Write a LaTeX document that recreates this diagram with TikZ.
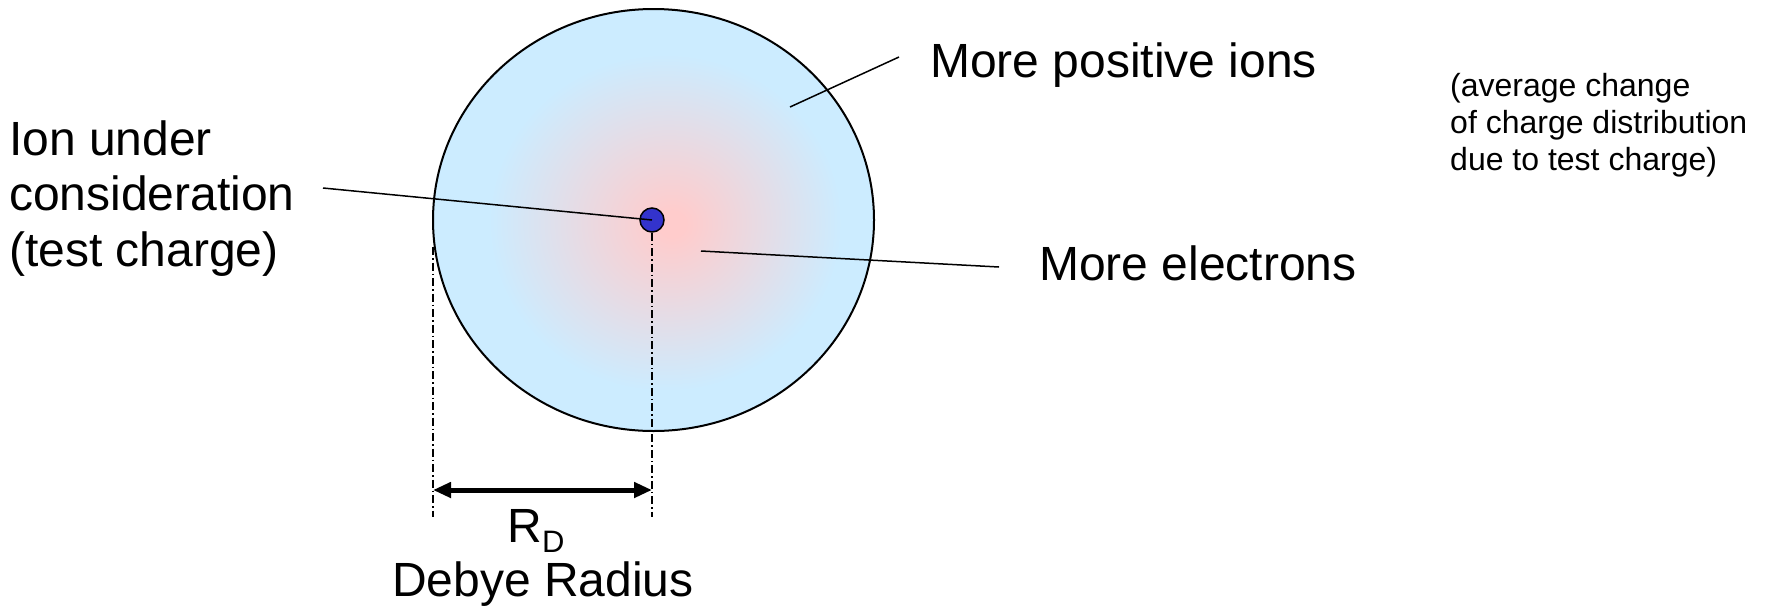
\documentclass[tikz,border=0pt]{standalone}
\usepackage{fontspec}
\setmainfont{Liberation Sans}
\usetikzlibrary{arrows.meta, positioning, shapes.geometric}
\definecolor{dotblue}{RGB}{51,51,204}
\pgfdeclareradialshading{debye}{\pgfpoint{2.2bp}{-0.5bp}}{rgb(0bp)=(1,0.8,0.8); rgb(1.5bp)=(1,0.8,0.8); rgb(20bp)=(0.8,0.925,1); rgb(50bp)=(0.8,0.925,1)}

\begin{document}
\begin{tikzpicture}[x=1pt, y=-1pt,
  bigtext/.style={font=\fontsize{48}{55.2}\selectfont, inner sep=0pt, align=left},
  smalltext/.style={font=\fontsize{32}{36.8}\selectfont, inner sep=0pt, align=left},
  leader/.style={line width=1.5pt},
  dashdot/.style={line width=1.5pt, dash pattern=on 8pt off 3pt on 1.5pt off 3pt}]
  \useasboundingbox (0,0) rectangle (1768,606);
  % Debye sphere and test charge
  \node[ellipse, draw, line width=2pt, shade, shading=debye, minimum width=441pt, minimum height=422pt, inner sep=0pt] (sphere) at (653.5,220) {};
  \node[circle, draw, fill=dotblue, line width=1.5pt, minimum size=24pt, inner sep=0pt] (charge) at (652,220) {};
  % Labels (multi-line ones sit on their last baseline)
  \node[bigtext, anchor=base west] (ionlabel) at (9,266) {Ion under\\consideration\\(test charge)};
  \node[bigtext, anchor=base west] (poslabel) at (930,77) {More positive ions};
  \node[bigtext, anchor=base west] (elelabel) at (1039,280) {More electrons};
  \node[smalltext, anchor=base west] (avglabel) at (1450,170) {(average change\\of charge distribution\\due to test charge)};
  % Leaders
  \coordinate (ionlead) at (323,188);
  \coordinate (posin) at (790,107);
  \coordinate (posout) at (899,57);
  \coordinate (elein) at (701,251);
  \coordinate (eleout) at (999,267);
  \draw[leader] (ionlead) -- (charge.center);
  \draw[leader] (posin) -- (posout);
  \draw[leader] (elein) -- (eleout);
  % Debye radius
  \coordinate (lefttop) at (433,247);
  \coordinate (leftfoot) at (433,517);
  \coordinate (rightfoot) at (652,517);
  \coordinate (rdleft) at (433,490);
  \coordinate (rdright) at (652,490);
  \draw[dashdot] (lefttop) -- (leftfoot);
  \draw[dashdot] (charge.south) -- (rightfoot);
  \draw[line width=5pt, {Triangle[length=18pt,width=15pt]}-{Triangle[length=18pt,width=15pt]}] (rdleft) -- (rdright);
  \node[bigtext, anchor=base] (rdlabel) at (536,542) {R\raisebox{-10pt}{\fontsize{31}{31}\selectfont D}};
  \node[bigtext, anchor=base] (debyelabel) at (543,596) {Debye Radius};
\end{tikzpicture}
\end{document}
